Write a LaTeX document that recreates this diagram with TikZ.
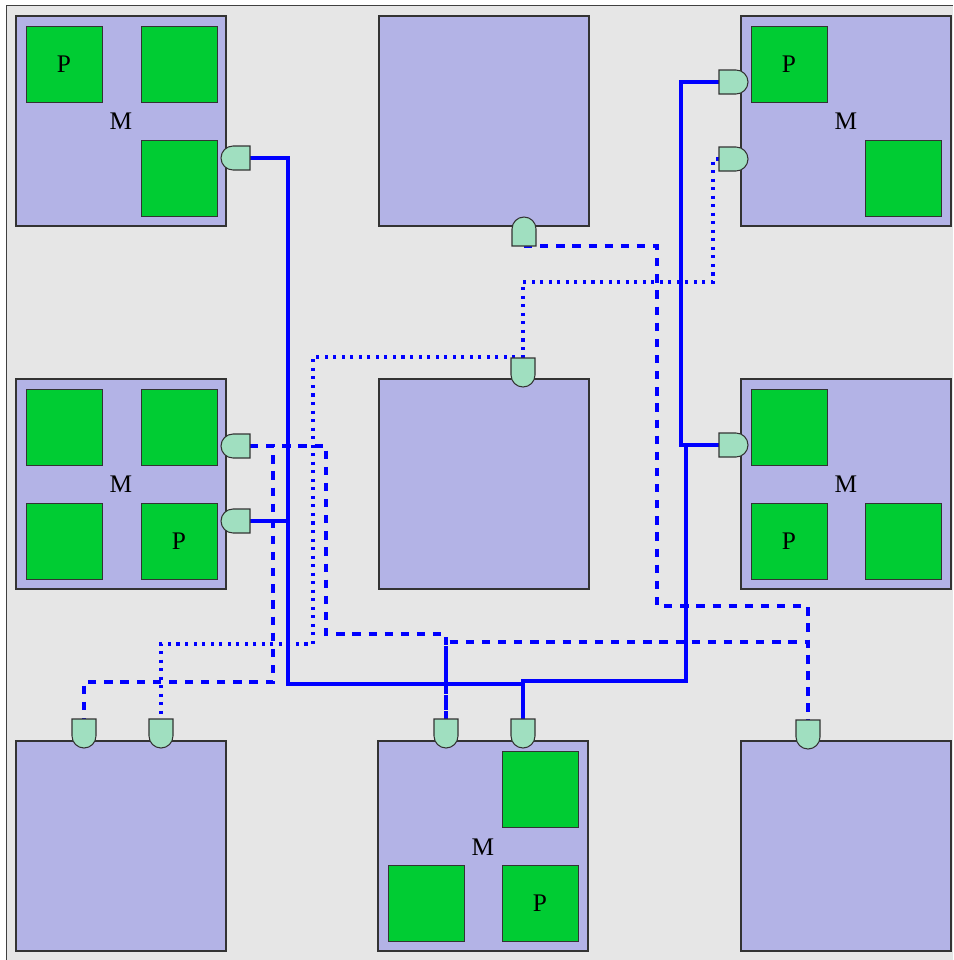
\documentclass[tikz,border=0pt]{standalone}
\usepackage{fontspec}
\setmainfont{Liberation Serif}
\definecolor{bgcol}{HTML}{E6E6E6}
\definecolor{modfill}{HTML}{B3B3E6}
\definecolor{chipgreen}{HTML}{00CC33}
\definecolor{portfill}{HTML}{A0DFC0}
\definecolor{edgegray}{HTML}{333333}
\newcommand\portat[2]{\begin{scope}[shift={(#1)},rotate=#2]\draw[portsty] (0,-12) -- (17,-12) arc[start angle=-90,end angle=90,radius=12] -- (0,12) -- cycle;\end{scope}}
\tikzset{
  module/.style={draw=edgegray, fill=modfill, line width=0.8pt, minimum size=157.5pt, inner sep=0pt, outer sep=0pt, anchor=north west},
  chip/.style={draw=edgegray, fill=chipgreen, line width=0.7pt, minimum size=57pt, inner sep=0pt, outer sep=0pt, anchor=north west, font=\fontsize{19}{22}\selectfont},
  lbl/.style={font=\fontsize{19}{22}\selectfont, inner sep=0pt},
  portsty/.style={draw=edgegray, fill=portfill, line width=0.8pt},
  bluewire/.style={draw=blue, line width=2.3pt},
  dashwire/.style={draw=blue, line width=2.3pt, dash pattern=on 6.2pt off 5.9pt},
  dotwire/.style={draw=blue, line width=2.3pt, dash pattern=on 2.3pt off 4.1pt}}
\begin{document}
\begin{tikzpicture}[x=0.75pt,y=-0.75pt]
\useasboundingbox (0,0) rectangle (953,960);
\fill[bgcol] (6,5) rectangle (953,960);
\draw[black!75, line width=0.75pt] (6,960) -- (6,5) -- (953,5);
% modules
\node[module] (mTL) at (16,16) {};
\node[module] (mTC) at (379,16) {};
\node[module] (mTR) at (741,16) {};
\node[module] (mML) at (16,379) {};
\node[module] (mMC) at (379,379) {};
\node[module] (mMR) at (741,379) {};
\node[module] (mBL) at (16,741) {};
\node[module] (mBC) at (378,741) {};
\node[module] (mBR) at (741,741) {};
% chips
\node[chip] (cTL1) at (26,26) {P};
\node[chip] (cTL2) at (141,26) {};
\node[chip] (cTL3) at (141,140) {};
\node[chip] (cML1) at (26,389) {};
\node[chip] (cML2) at (141,389) {};
\node[chip] (cML3) at (26,503) {};
\node[chip] (cML4) at (141,503) {P};
\node[chip] (cTR1) at (751,26) {P};
\node[chip] (cTR2) at (865,140) {};
\node[chip] (cMR1) at (751,389) {};
\node[chip] (cMR2) at (751,503) {P};
\node[chip] (cMR3) at (865,503) {};
\node[chip] (cBC1) at (502,751) {};
\node[chip] (cBC2) at (388,865) {};
\node[chip] (cBC3) at (502,865) {P};
% M labels
\node[lbl] (lTL) at (121,121) {M};
\node[lbl] (lML) at (121,484) {M};
\node[lbl] (lTR) at (846,121) {M};
\node[lbl] (lMR) at (846,484) {M};
\node[lbl] (lBC) at (483,847) {M};
% port anchor points (flat outer ends)
\coordinate (pTL) at (250,158);
\coordinate (pTC) at (524,246);
\coordinate (pTR1) at (719,82);
\coordinate (pTR2) at (719,159);
\coordinate (pMC) at (523,358);
\coordinate (pML1) at (250,446);
\coordinate (pML2) at (250,521);
\coordinate (pMR) at (719,445);
\coordinate (pBL1) at (84,719);
\coordinate (pBL2) at (161,719);
\coordinate (pBC1) at (446,719);
\coordinate (pBC2) at (523,719);
\coordinate (pBR) at (808,720);
% solid wires
\draw[bluewire] (pTL) -- (288,158) -- (288,684) -- (523,684) -- (pBC2);
\draw[bluewire] (pML2) -- (288,521) -- (288,684);
\draw[bluewire] (pBC2) -- (523,681) -- (686,681) -- (686,445) -- (pMR);
\draw[bluewire] (pTR1) -- (681,82) -- (681,445) -- (pMR);
% dashed wires
\draw[dashwire] (pTC) -- (657,246) -- (657,606) -- (808,606) -- (pBR);
\draw[dashwire] (pBC1) -- (446,642) -- (808,642) -- (pBR);
\draw[dashwire] (pML1) -- (326,446) -- (326,634) -- (446,634) -- (pBC1);
\draw[dashwire] (pML1) -- (273,446) -- (273,682) -- (84,682) -- (pBL1);
% dotted wires
\draw[dotwire] (pTR2) -- (713,159) -- (713,282) -- (523,282) -- (pMC);
\draw[dotwire] (pMC) -- (523,357) -- (313,357) -- (313,644) -- (161,644) -- (pBL2);
% ports
\portat{pTL}{180}
\portat{pTC}{90}
\portat{pTR1}{0}
\portat{pTR2}{0}
\portat{pMC}{-90}
\portat{pML1}{180}
\portat{pML2}{180}
\portat{pMR}{0}
\portat{pBL1}{-90}
\portat{pBL2}{-90}
\portat{pBC1}{-90}
\portat{pBC2}{-90}
\portat{pBR}{-90}
\end{tikzpicture}
\end{document}
